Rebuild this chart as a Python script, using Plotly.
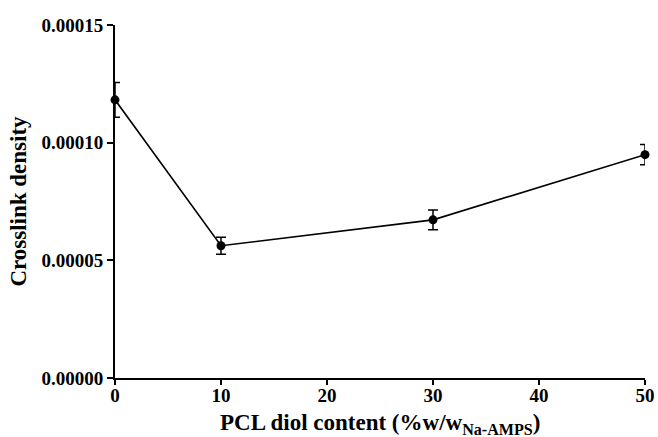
import plotly.graph_objects as go

# PCL diol content (%w/w Na-AMPS) and measured crosslink density
pcl_content = [0, 10, 30, 50]
crosslink_density = [0.0001182, 0.0000562, 0.0000672, 0.0000949]
crosslink_err = [0.0000074, 0.0000036, 0.0000042, 0.0000043]

x_ticks = [0, 10, 20, 30, 40, 50]
y_ticks = [0.0, 0.00005, 0.00010, 0.00015]

font_family = "Liberation Serif"

fig = go.Figure()
fig.add_trace(go.Scatter(
    x=pcl_content,
    y=crosslink_density,
    mode="lines+markers",
    line=dict(color="black", width=1.6),
    marker=dict(color="black", size=9),
    error_y=dict(type="data", array=crosslink_err, visible=True,
                 color="black", thickness=1.5, width=5),
    cliponaxis=False,
    showlegend=False,
))

fig.update_layout(
    width=658, height=437, autosize=False,
    margin=dict(l=115, r=13, t=25, b=59),
    paper_bgcolor="white", plot_bgcolor="white",
    font=dict(family=font_family, color="black"),
    xaxis=dict(
        range=[0, 50], tickvals=x_ticks, ticktext=[str(v) for v in x_ticks],
        showgrid=False, zeroline=False, showline=True, linecolor="black", linewidth=2,
        ticks="outside", ticklen=5, tickwidth=2, tickcolor="black",
        tickfont=dict(size=19, family=font_family, weight="bold"),
        ticklabelstandoff=-6,
        automargin=False,
    ),
    yaxis=dict(
        range=[0, 0.00015], tickvals=y_ticks, tickformat=".5f",
        showgrid=False, zeroline=False, showline=True, linecolor="black", linewidth=2,
        ticks="outside", ticklen=6, tickwidth=2, tickcolor="black",
        tickfont=dict(size=19, family=font_family, weight="bold"),
        automargin=False,
        title=dict(text="Crosslink density",
                   font=dict(size=23, family=font_family, weight="bold"), standoff=8),
    ),
    annotations=[dict(
        text="PCL diol content (%w/w<sub>Na-AMPS</sub>)",
        xref="paper", yref="paper", x=0.5, y=-0.131,
        xanchor="center", yanchor="middle", showarrow=False,
        font=dict(size=23, family=font_family, weight="bold"),
    )],
)

fig.write_html("out.html")
